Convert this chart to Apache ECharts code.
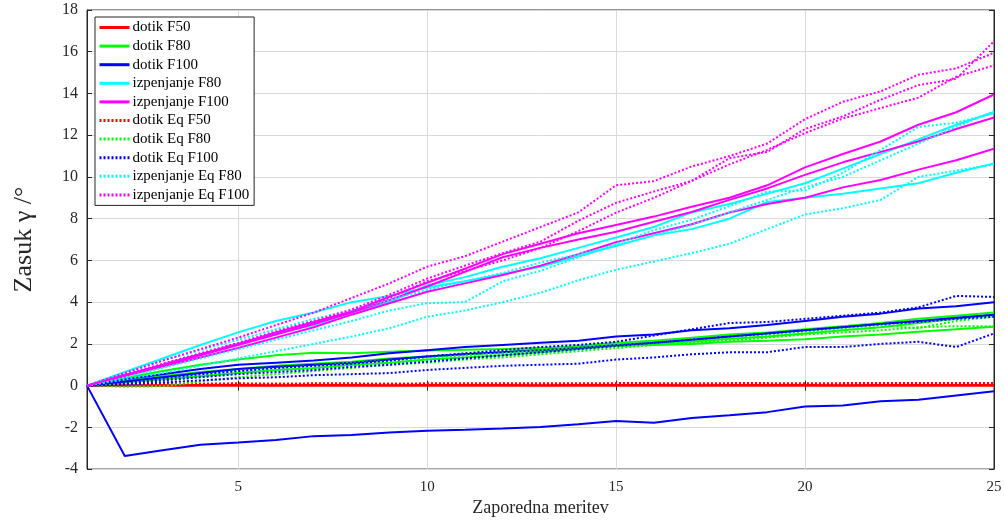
<!DOCTYPE html>
<html>
<head>
<meta charset="utf-8">
<script src="https://cdn.jsdelivr.net/npm/echarts@6/dist/echarts.min.js"></script>
<style>
  html, body { margin: 0; padding: 0; background: #fff; }
  #chart { width: 1005px; height: 522px; }
</style>
</head>
<body>
<div id="chart"></div>
<script>
// zaporedna meritev
const xs = [1, 2, 3, 4, 5, 6, 7, 8, 9, 10, 11, 12, 13, 14, 15, 16, 17, 18, 19, 20, 21, 22, 23, 24, 25]
const yTicks = [-4, 18, 2]

// dotik F50
const dotikF50 = [
  [0, 0, 0, 0, 0, 0, 0, 0, 0, 0, 0, 0, 0, 0, 0, 0, 0, 0, 0, 0, 0, 0, 0, 0, 0],
  [0, 0.02, 0.02, 0.03, 0.03, 0.02, 0.03, 0.03, 0.02, 0.03, 0.03, 0.03, 0.02, 0.03, 0.03, 0.03, 0.02, 0.03, 0.03, 0.03, 0.02, 0.03, 0.03, 0.03, 0.03]
]
// dotik F80
const dotikF80 = [
  [0, 0.35, 0.7, 1.0, 1.25, 1.45, 1.57, 1.55, 1.62, 1.68, 1.72, 1.75, 1.8, 1.85, 1.9, 1.95, 2.0, 2.1, 2.15, 2.22, 2.35, 2.45, 2.58, 2.7, 2.82],
  [0, 0.25, 0.45, 0.65, 0.8, 0.95, 1.05, 1.15, 1.3, 1.4, 1.5, 1.6, 1.75, 1.9, 2.05, 2.15, 2.3, 2.45, 2.55, 2.7, 2.85, 3.0, 3.2, 3.35, 3.5],
  [0, 0.15, 0.3, 0.45, 0.6, 0.75, 0.85, 1.0, 1.1, 1.25, 1.35, 1.45, 1.6, 1.75, 1.9, 2.0, 2.1, 2.25, 2.35, 2.5, 2.65, 2.8, 3.0, 3.2, 3.4]
]
// dotik F100
const dotikF100 = [
  [0, 0.3, 0.55, 0.8, 1.0, 1.1, 1.2, 1.35, 1.55, 1.7, 1.85, 1.95, 2.05, 2.15, 2.35, 2.45, 2.65, 2.75, 2.9, 3.1, 3.3, 3.45, 3.7, 3.8, 4.0],
  [0, 0.2, 0.4, 0.6, 0.8, 0.9, 1.0, 1.1, 1.25, 1.4, 1.5, 1.6, 1.7, 1.8, 1.95, 2.05, 2.2, 2.35, 2.5, 2.65, 2.8, 2.95, 3.1, 3.25, 3.4],
  [0, -3.37, -3.1, -2.83, -2.72, -2.6, -2.42, -2.37, -2.25, -2.16, -2.11, -2.05, -1.98, -1.85, -1.7, -1.78, -1.55, -1.42, -1.27, -1.0, -0.95, -0.75, -0.68, -0.47, -0.27]
]
// izpenjanje F80
const izpF80 = [
  [0, 0.65, 1.3, 1.95, 2.55, 3.1, 3.5, 4.0, 4.3, 4.7, 5.0, 5.35, 5.7, 6.2, 6.7, 7.2, 7.5, 8.0, 8.8, 9.0, 9.2, 9.45, 9.7, 10.2, 10.65],
  [0, 0.5, 1.0, 1.5, 2.0, 2.5, 2.9, 3.5, 4.0, 4.8, 5.2, 5.7, 6.1, 6.6, 7.1, 7.6, 8.3, 8.7, 9.2, 9.7, 10.4, 11.1, 11.8, 12.5, 13.1]
]
// izpenjanje F100
const izpF100 = [
  [0, 0.5, 1.0, 1.5, 2.0, 2.55, 3.05, 3.55, 4.25, 4.93, 5.6, 6.3, 6.8, 7.3, 7.7, 8.1, 8.57, 9.0, 9.6, 10.46, 11.1, 11.7, 12.5, 13.1, 13.95],
  [0, 0.5, 0.95, 1.45, 1.95, 2.45, 2.95, 3.5, 4.1, 4.75, 5.45, 6.15, 6.6, 7.0, 7.37, 7.85, 8.32, 8.9, 9.45, 10.1, 10.7, 11.2, 11.7, 12.3, 12.85],
  [0, 0.45, 0.9, 1.35, 1.8, 2.3, 2.8, 3.4, 3.95, 4.5, 4.9, 5.3, 5.75, 6.3, 6.87, 7.3, 7.73, 8.3, 8.7, 9.0, 9.5, 9.85, 10.35, 10.8, 11.35]
]
// dotik Eq F50
const dotikEqF50 = [
  [0, 0.08, 0.1, 0.1, 0.11, 0.1, 0.11, 0.11, 0.1, 0.11, 0.11, 0.12, 0.11, 0.11, 0.12, 0.12, 0.11, 0.12, 0.12, 0.11, 0.12, 0.12, 0.12, 0.12, 0.12],
  [0, 0.04, 0.05, 0.05, 0.06, 0.06, 0.05, 0.06, 0.06, 0.06, 0.06, 0.06, 0.06, 0.06, 0.06, 0.06, 0.06, 0.06, 0.06, 0.06, 0.06, 0.06, 0.06, 0.06, 0.06]
]
// dotik Eq F80
const dotikEqF80 = [
  [0, -0.05, -0.03, 0.2, 0.4, 0.55, 0.7, 0.85, 1.0, 1.1, 1.25, 1.35, 1.5, 1.65, 1.8, 1.95, 2.05, 2.15, 2.3, 2.45, 2.55, 2.65, 2.8, 2.85, 2.85],
  [0, 0.1, 0.3, 0.5, 0.7, 0.85, 0.95, 1.1, 1.2, 1.35, 1.45, 1.55, 1.7, 1.8, 1.95, 2.05, 2.15, 2.35, 2.45, 2.6, 2.75, 2.9, 2.75, 3.1, 3.3]
]
// dotik Eq F100
const dotikEqF100 = [
  [0, 0.15, 0.35, 0.55, 0.7, 0.85, 0.95, 1.05, 1.2, 1.4, 1.55, 1.7, 1.85, 1.95, 2.1, 2.4, 2.7, 3.0, 3.05, 3.2, 3.35, 3.5, 3.75, 4.3, 4.25],
  [0, 0.1, 0.25, 0.4, 0.55, 0.65, 0.75, 0.9, 1.0, 1.15, 1.3, 1.45, 1.6, 1.75, 1.9, 2.05, 2.2, 2.35, 2.5, 2.65, 2.8, 2.95, 3.05, 3.2, 3.3],
  [0, 0.05, 0.15, 0.25, 0.35, 0.4, 0.5, 0.55, 0.6, 0.75, 0.85, 0.95, 1.0, 1.05, 1.25, 1.35, 1.5, 1.6, 1.6, 1.85, 1.85, 2.0, 2.1, 1.85, 2.5]
]
// izpenjanje Eq F80
const izpEqF80 = [
  [0, 0.4, 0.85, 1.3, 1.75, 2.2, 2.65, 3.1, 3.6, 3.95, 4.0, 5.0, 5.5, 6.15, 6.8, 7.45, 7.95, 8.6, 9.3, 9.35, 10.2, 11.3, 12.4, 12.6, 13.05],
  [0, 0.3, 0.6, 0.95, 1.3, 1.65, 2.0, 2.35, 2.75, 3.3, 3.6, 4.0, 4.45, 5.05, 5.55, 5.95, 6.35, 6.8, 7.5, 8.2, 8.5, 8.9, 10.0, 10.3, 10.6],
  [0, 0.6, 1.2, 1.7, 2.2, 2.7, 3.2, 3.6, 4.1, 4.6, 5.0, 5.4, 5.9, 6.3, 6.7, 7.2, 7.7, 8.3, 8.9, 9.5, 10.0, 10.8, 11.6, 12.4, 13.15]
]
// izpenjanje Eq F100
const izpEqF100 = [
  [0, 0.6, 1.2, 1.75, 2.3, 2.9, 3.5, 4.2, 4.9, 5.7, 6.2, 6.9, 7.6, 8.3, 9.6, 9.8, 10.5, 11.0, 11.6, 12.77, 13.6, 14.1, 14.9, 15.2, 15.95],
  [0, 0.5, 1.05, 1.55, 2.05, 2.6, 3.1, 3.65, 4.35, 5.13, 5.75, 6.35, 6.9, 7.9, 8.76, 9.3, 9.81, 10.9, 11.2, 12.3, 12.9, 13.7, 14.4, 14.7, 16.5],
  [0, 0.5, 1.0, 1.5, 2.0, 2.5, 3.0, 3.55, 4.2, 5.0, 5.5, 6.0, 6.6, 7.4, 8.29, 9.0, 9.81, 10.6, 11.3, 12.1, 12.8, 13.3, 13.8, 14.8, 15.35]
]

const groups = [
  { name: 'dotik F50', color: '#ff0000', dotted: false, lines: dotikF50 },
  { name: 'dotik F80', color: '#00ff00', dotted: false, lines: dotikF80 },
  { name: 'dotik F100', color: '#0000ff', dotted: false, lines: dotikF100 },
  { name: 'izpenjanje F80', color: '#00ffff', dotted: false, lines: izpF80 },
  { name: 'izpenjanje F100', color: '#ff00ff', dotted: false, lines: izpF100 },
  { name: 'dotik Eq F50', color: '#ff0000', dotted: true, lines: dotikEqF50 },
  { name: 'dotik Eq F80', color: '#00ff00', dotted: true, lines: dotikEqF80 },
  { name: 'dotik Eq F100', color: '#0000ff', dotted: true, lines: dotikEqF100 },
  { name: 'izpenjanje Eq F80', color: '#00ffff', dotted: true, lines: izpEqF80 },
  { name: 'izpenjanje Eq F100', color: '#ff00ff', dotted: true, lines: izpEqF100 }
]

const font = 'Liberation Serif'
const axisColor = '#262626'

const series = []
groups.forEach(g => {
  g.lines.forEach(vals => {
    series.push({
      name: g.name,
      type: 'line',
      symbol: 'none',
      data: xs.map((x, i) => [x, vals[i]]),
      color: g.color,
      lineStyle: { color: g.color, width: 2, type: g.dotted ? [2, 2] : 'solid' }
    })
  })
})

const chart = echarts.init(document.getElementById('chart'))
chart.setOption({
  animation: false,
  textStyle: { fontFamily: font },
  grid: { left: 87, right: 11, top: 10, bottom: 47, show: true, borderColor: axisColor, borderWidth: 1 },
  legend: {
    data: groups.map(g => g.name),
    orient: 'vertical',
    left: 95,
    top: 17,
    itemWidth: 30,
    itemHeight: 14,
    itemGap: 3.6,
    padding: [3, 5, 3, 3],
    backgroundColor: '#fff',
    borderColor: axisColor,
    borderWidth: 1,
    borderRadius: 0,
    itemStyle: { opacity: 0 },
    lineStyle: { width: 3 },
    textStyle: { fontFamily: font, fontSize: 15, color: '#000', padding: [0, 0, 0, -2] }
  },
  xAxis: [
    {
      type: 'value',
      min: xs[0],
      max: xs[xs.length - 1],
      splitNumber: 5,
      name: 'Zaporedna meritev',
      nameLocation: 'middle',
      nameGap: 28,
      nameTextStyle: { fontFamily: font, fontSize: 18, color: '#262626' },
      axisLine: { show: true, lineStyle: { color: axisColor } },
      axisTick: { inside: true, length: 5, lineStyle: { color: axisColor } },
      axisLabel: { showMinLabel: false, fontFamily: font, fontSize: 15, color: '#262626', margin: 10 },
      splitLine: { show: true, lineStyle: { color: '#dadada' } }
    },
    {
      type: 'value',
      position: 'top',
      min: xs[0],
      max: xs[xs.length - 1],
      splitNumber: 5,
      axisLine: { show: true, lineStyle: { color: axisColor } },
      axisTick: { inside: true, length: 5, lineStyle: { color: axisColor } },
      axisLabel: { show: false },
      splitLine: { show: false }
    }
  ],
  yAxis: [
    {
      type: 'value',
      min: yTicks[0],
      max: yTicks[1],
      interval: yTicks[2],
      name: 'Zasuk γ /°',
      nameLocation: 'middle',
      nameGap: 50,
      nameTextStyle: { fontFamily: font, fontSize: 26, color: '#262626' },
      axisLine: { show: true, lineStyle: { color: axisColor } },
      axisTick: { show: true, inside: true, length: 5, lineStyle: { color: axisColor } },
      axisLabel: { fontFamily: font, fontSize: 16, color: '#262626', margin: 9 },
      splitLine: { show: true, lineStyle: { color: '#dadada' } }
    },
    {
      type: 'value',
      position: 'right',
      min: yTicks[0],
      max: yTicks[1],
      interval: yTicks[2],
      axisLine: { show: true, lineStyle: { color: axisColor } },
      axisTick: { show: true, inside: true, length: 5, lineStyle: { color: axisColor } },
      axisLabel: { show: false },
      splitLine: { show: false }
    }
  ],
  series: series
})
</script>
</body>
</html>
